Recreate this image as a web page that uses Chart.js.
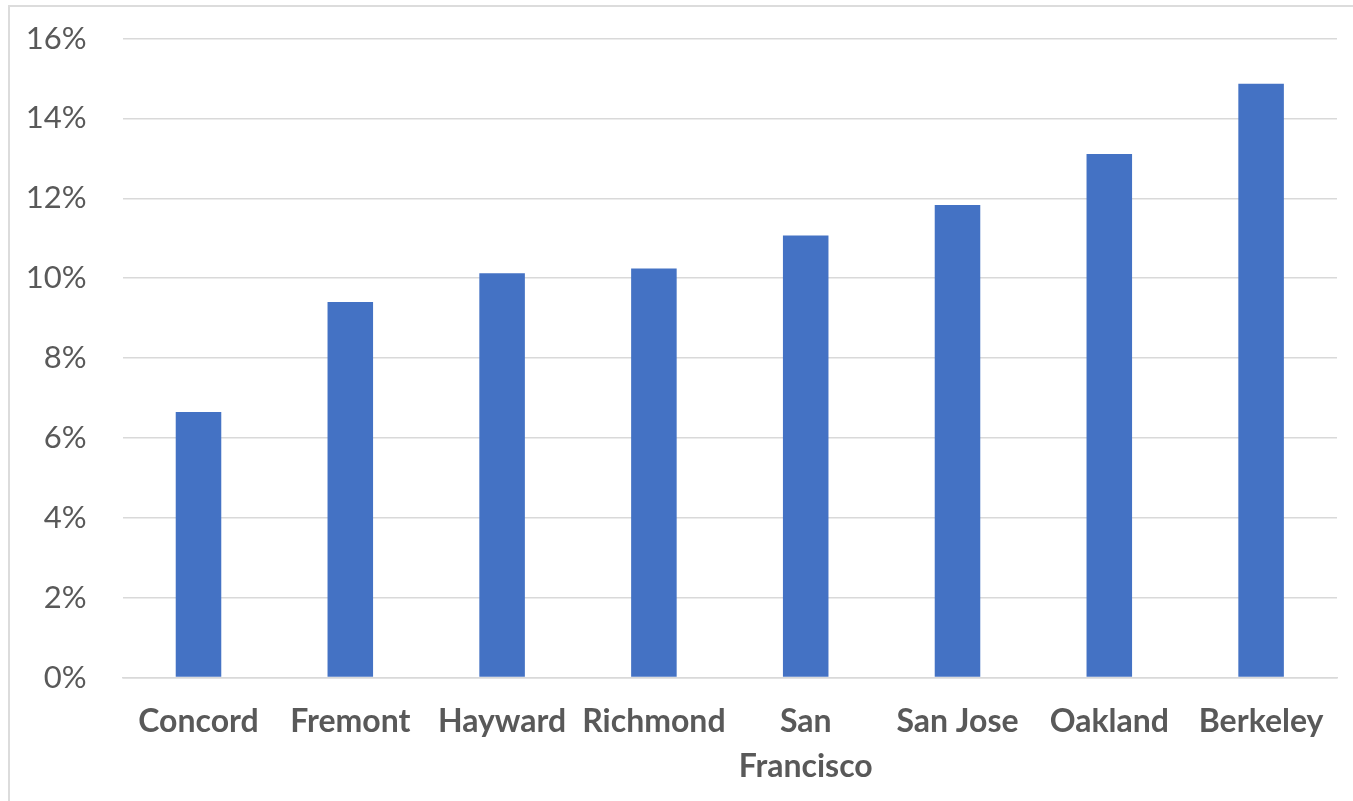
<!DOCTYPE html>
<html>
<head>
<meta charset="utf-8">
<script src="https://cdn.jsdelivr.net/npm/chart.js@4/dist/chart.umd.min.js"></script>
<style>
  html, body { margin: 0; padding: 0; background: #ffffff; }
  #wrap { position: relative; width: 1353px; height: 801px; overflow: hidden; }
  #frame { position: absolute; left: 8px; top: 5px; right: -10px; bottom: -10px;
           border-top: 2px solid #dcdcdc; border-left: 2px solid #dcdcdc; }
  canvas { position: absolute; left: 0; top: 0; }
</style>
</head>
<body>
<div id="wrap">
  <div id="frame"></div>
  <canvas id="c" width="1353" height="801"></canvas>
</div>
<script>
const categories = ['Concord', 'Fremont', 'Hayward', 'Richmond', ['San', 'Francisco'], 'San Jose', 'Oakland', 'Berkeley'];
const values = [6.65, 9.40, 10.12, 10.24, 11.07, 11.83, 13.11, 14.87];
const yTicks = [0, 2, 4, 6, 8, 10, 12, 14, 16];

const textColor = '#595959';
const gridColor = '#d9d9d9';

new Chart(document.getElementById('c'), {
  type: 'bar',
  data: {
    labels: categories,
    datasets: [{
      data: values,
      backgroundColor: '#4472C4',
      borderWidth: 0,
      barPercentage: 0.3,
      categoryPercentage: 1.0
    }]
  },
  options: {
    responsive: false,
    animation: false,
    layout: { padding: { left: 20, right: 16, top: 38.5, bottom: 0 } },
    plugins: { legend: { display: false }, tooltip: { enabled: false } },
    scales: {
      x: {
        grid: { display: false, drawTicks: false },
        border: { display: true, color: gridColor, width: 1.5 },
        ticks: {
          color: textColor,
          font: { family: 'Lato', size: 32, weight: 'bold', lineHeight: 1.4 },
          padding: 22,
          autoSkip: false,
          maxRotation: 0,
          minRotation: 0
        },
        afterFit: (s) => { s.height = 123.5; }
      },
      y: {
        min: 0,
        max: 16,
        afterBuildTicks: (s) => { s.ticks = yTicks.map(v => ({ value: v })); },
        grid: { color: gridColor, lineWidth: 1.5, drawTicks: false },
        border: { display: false },
        ticks: {
          color: textColor,
          font: { family: 'Lato', size: 31, lineHeight: 1.2 },
          padding: 36,
          callback: (v) => v + '%'
        },
        afterFit: (s) => { s.width = 102.6; s.paddingTop = 0; s.paddingBottom = 0; }
      }
    }
  }
});
</script>
</body>
</html>
